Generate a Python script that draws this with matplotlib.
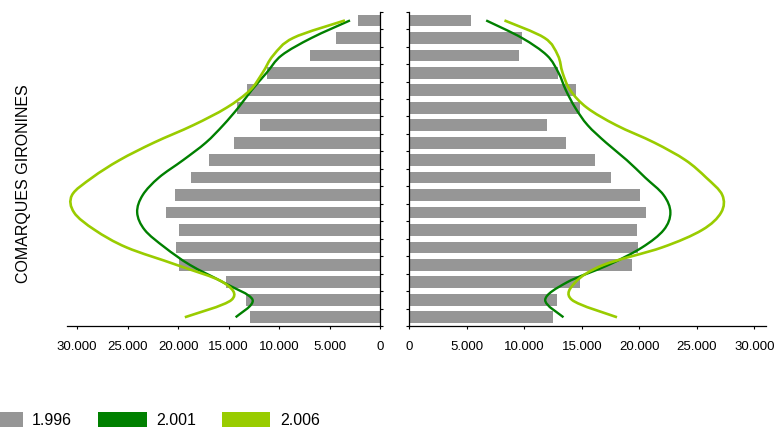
import numpy as np
import matplotlib
matplotlib.use("Agg")
import matplotlib.pyplot as plt
from matplotlib.path import Path
from matplotlib.patches import PathPatch, Patch
from matplotlib.ticker import FuncFormatter, FixedLocator

plt.rcParams['font.family'] = ['Liberation Sans', 'DejaVu Sans']

# age groups, oldest at the top (values read top -> bottom)
groups = ["85+", "80-84", "75-79", "70-74", "65-69", "60-64", "55-59", "50-54", "45-49",
          "40-44", "35-39", "30-34", "25-29", "20-24", "15-19", "10-14", "5-9", "0-4"]

# left side (homes)
homes_1996 = [2150, 4360, 6940, 11230, 13150, 14170, 11890, 14470, 16950,
              18730, 20320, 21210, 19920, 20220, 19920, 15260, 13280, 12880]
homes_2001 = [2970, 6770, 9740, 11230, 12720, 14040, 15530, 17250, 19500,
              21900, 23500, 24050, 23300, 21310, 18830, 15530, 12620, 14300]
homes_2006 = [3470, 8590, 10570, 11630, 12880, 15200, 18500, 22400, 25800,
              28500, 30500, 30300, 28250, 25100, 20150, 15530, 14700, 19330]

# right side (dones)
dones_1996 = [5370, 9810, 9550, 12910, 14480, 14860, 11980, 13640, 16160,
              17550, 20070, 20600, 19820, 19910, 19390, 14860, 12850, 12500]
dones_2001 = [6680, 9780, 11960, 12970, 13610, 14420, 15500, 17100, 18900,
              20500, 22100, 22690, 22110, 20230, 17320, 13700, 11810, 13400]
dones_2006 = [8270, 11750, 12910, 13320, 13990, 15440, 17990, 21300, 24000,
              25800, 27200, 27100, 25450, 21970, 16880, 14420, 14130, 18050]

years = ["1.996", "2.001", "2.006"]
colors = ["#969696", "#008000", "#99cc00"]


def smooth_line(ax, xs, ys, color, lw):
    # Catmull-Rom through the points, drawn as cubic bezier segments
    pts = np.column_stack([xs, ys]).astype(float)
    ext = np.vstack([pts[0], pts, pts[-1]])
    verts = [pts[0]]
    codes = [Path.MOVETO]
    for i in range(len(pts) - 1):
        p0, p1, p2, p3 = ext[i], ext[i + 1], ext[i + 2], ext[i + 3]
        verts += [p1 + (p2 - p0) / 6, p2 - (p3 - p1) / 6, p2]
        codes += [Path.CURVE4] * 3
    ax.add_patch(PathPatch(Path(verts, codes), facecolor="none", edgecolor=color,
                           lw=lw, clip_on=False, capstyle="butt"))


fmt = FuncFormatter(lambda v, p: f"{int(v):,}".replace(",", "."))

fig = plt.figure(figsize=(7.78, 4.30), dpi=100)
axL = fig.add_axes([67 / 778, 104 / 430, 313 / 778, 314.3 / 430])
axR = fig.add_axes([409.3 / 778, 104 / 430, 356.7 / 778, 314.3 / 430])

ypos = np.arange(len(groups))

for ax, bars, l01, l06 in [(axL, homes_1996, homes_2001, homes_2006),
                           (axR, dones_1996, dones_2001, dones_2006)]:
    ax.barh(ypos, bars, height=0.67, color=colors[0], zorder=1)
    smooth_line(ax, l01, ypos, colors[1], 1.7)
    smooth_line(ax, l06, ypos, colors[2], 1.9)
    ax.set_ylim(len(groups) - 0.5, -0.5)
    ax.yaxis.set_major_locator(FixedLocator(np.arange(-0.5, len(groups), 1)))
    ax.set_yticklabels([])
    ax.set_xticks(np.arange(0, 30001, 5000))
    ax.xaxis.set_major_formatter(fmt)
    ax.tick_params(axis="x", direction="out", length=2.3, width=0.8, pad=8.5,
                   labelsize=9.5, colors="black")
    ax.tick_params(axis="y", direction="out", length=2.3, width=0.8)
    ax.spines["top"].set_visible(False)
    for s in ax.spines.values():
        s.set_linewidth(0.9)

axL.set_xlim(31000, 0)
axL.spines["left"].set_visible(False)
axL.yaxis.tick_right()
axR.set_xlim(0, 31000)
axR.spines["right"].set_visible(False)
axR.yaxis.tick_left()

fig.text(24 / 778, 1 - 184 / 430, "COMARQUES GIRONINES", rotation=90,
         ha="center", va="center", fontsize=11.5)

handles = [Patch(facecolor=c, edgecolor="none") for c in colors]
fig.legend(handles, years, loc="center left", bbox_to_anchor=(-26.3 / 778, 10 / 430),
           ncol=3, frameon=False, fontsize=11.5, handlelength=3.06, handleheight=1.12,
           handletextpad=0.6, columnspacing=1.6, borderpad=0, borderaxespad=0)

fig.savefig("out.png", dpi=100)
